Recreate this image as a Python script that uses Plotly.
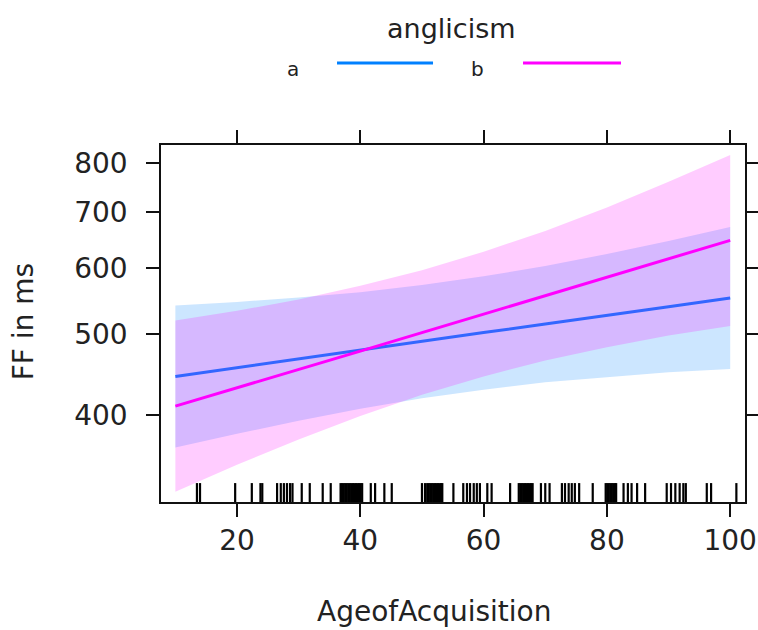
import plotly.graph_objects as go

# ---- data ----
age = [10, 20, 30, 40, 50, 60, 70, 80, 90, 100]
groups = ["a", "b"]
fit_a = [445, 456, 467, 478, 490, 502, 514, 526, 539, 552]
lower_a = [366, 380, 394, 407, 419, 429, 438, 444, 450, 454]
upper_a = [541, 546, 553, 561, 572, 586, 603, 623, 646, 671]
fit_b = [410, 431, 454, 477, 502, 528, 556, 585, 615, 647]
lower_b = [324, 349, 374, 399, 423, 445, 465, 482, 498, 511]
upper_b = [519, 533, 550, 571, 596, 627, 664, 708, 760, 818]
rug_values = [13.5, 14.0, 19.7, 22.4, 23.8, 24.1, 26.5, 27.1, 27.6, 28.1, 28.6, 29.0,
              30.5, 31.8, 33.9, 35.2,
              36.8, 37.05, 37.3, 37.55, 37.8, 38.05, 38.3, 38.55, 38.8, 39.05, 39.3,
              39.55, 39.8, 40.05, 40.3,
              41.7, 42.4, 43.9, 45.1, 50.0, 50.5,
              50.85, 51.1, 51.35, 51.6, 51.85, 52.1, 52.35, 52.6, 52.85, 53.1, 53.3,
              55.1, 56.7, 57.3, 57.8, 58.4, 58.9, 59.4, 60.6, 61.3, 64.3,
              65.7, 65.95, 66.2, 66.45, 66.7, 66.95, 67.2, 67.45, 67.7, 67.95,
              69.3, 70.0, 70.7, 72.7, 73.2, 73.8, 74.3, 74.8, 75.5, 77.7,
              79.8, 80.05, 80.3, 80.55, 80.8, 81.05, 81.3, 81.5,
              82.7, 83.4, 84.0, 84.9, 86.2, 89.7, 90.4, 91.1, 91.8, 92.4, 92.8,
              96.2, 96.9, 101.0]
x_ticks = [20, 40, 60, 80, 100]
y_ticks = [400, 500, 600, 700, 800]

line_colors = {"a": "#0080ff", "b": "#ff00ff"}
band_colors = {"a": "rgba(0,128,255,0.2)", "b": "rgba(255,0,255,0.2)"}
series = {"a": (fit_a, lower_a, upper_a), "b": (fit_b, lower_b, upper_b)}

FONT = "DejaVu Sans"
TXT = "#222222"

fig = go.Figure()
for g in groups:
    fit, lo, up = series[g]
    fig.add_trace(go.Scatter(
        x=age + age[::-1], y=up + lo[::-1], fill="toself",
        fillcolor=band_colors[g], line=dict(width=0), mode="lines",
        hoverinfo="skip", showlegend=False))
    fig.add_trace(go.Scatter(
        x=age, y=fit, mode="lines", line=dict(color=line_colors[g], width=3),
        showlegend=False, name=g))

# rug
rx, ry = [], []
for v in rug_values:
    rx += [v, v, None]
    ry += [0, 0.053, None]
fig.add_trace(go.Scatter(x=rx, y=ry, mode="lines", yaxis="y2",
                         line=dict(color="black", width=2.2), showlegend=False,
                         hoverinfo="skip"))

axis_common = dict(showgrid=False, zeroline=False, showline=True, linecolor="#111111",
                   linewidth=1.5, mirror="ticks", ticks="outside", ticklen=13,
                   tickwidth=1.5, tickcolor="#111111", automargin=False,
                   tickfont=dict(family=FONT, size=28, color=TXT))

fig.update_layout(
    width=758, height=630,
    margin=dict(l=161, r=13, t=145, b=128, autoexpand=False),
    plot_bgcolor="white", paper_bgcolor="white",
    xaxis=dict(range=[7.67, 102.4], tickvals=x_ticks, ticktext=[str(t) for t in x_ticks],
               ticklabelstandoff=0, **axis_common),
    yaxis=dict(type="log", range=[2.4983, 2.9248], tickvals=y_ticks,
               ticktext=[str(t) for t in y_ticks], ticklabelstandoff=13, **axis_common),
    yaxis2=dict(range=[0, 1], overlaying="y", visible=False, fixedrange=True),
    showlegend=False,
)

# axis titles
fig.add_annotation(text="AgeofAcquisition", xref="paper", yref="paper", x=0.469, y=-0.308,
                   showarrow=False, xanchor="center", yanchor="middle",
                   font=dict(family=FONT, size=28, color=TXT))
fig.add_annotation(text="FF in ms", xref="paper", yref="paper", x=-0.236, y=0.504,
                   showarrow=False, textangle=-90, xanchor="center", yanchor="middle",
                   font=dict(family=FONT, size=28, color=TXT))

# legend (key)
fig.add_annotation(text="anglicism", xref="paper", yref="paper", x=0.4966, y=1.3277,
                   showarrow=False, xanchor="center", yanchor="middle",
                   font=dict(family=FONT, size=27, color=TXT))
key = {"a": (0.226, 0.3014, 0.4658), "b": (0.5428, 0.6199, 0.7877)}
for g in groups:
    tx, x0, x1 = key[g]
    fig.add_annotation(text=g, xref="paper", yref="paper", x=tx, y=1.212,
                       showarrow=False, xanchor="center", yanchor="middle",
                       font=dict(family=FONT, size=20, color=TXT))
    fig.add_shape(type="line", xref="paper", yref="paper", x0=x0, x1=x1,
                  y0=1.2297, y1=1.2297, line=dict(color=line_colors[g], width=3))

fig.write_html("out.html")
